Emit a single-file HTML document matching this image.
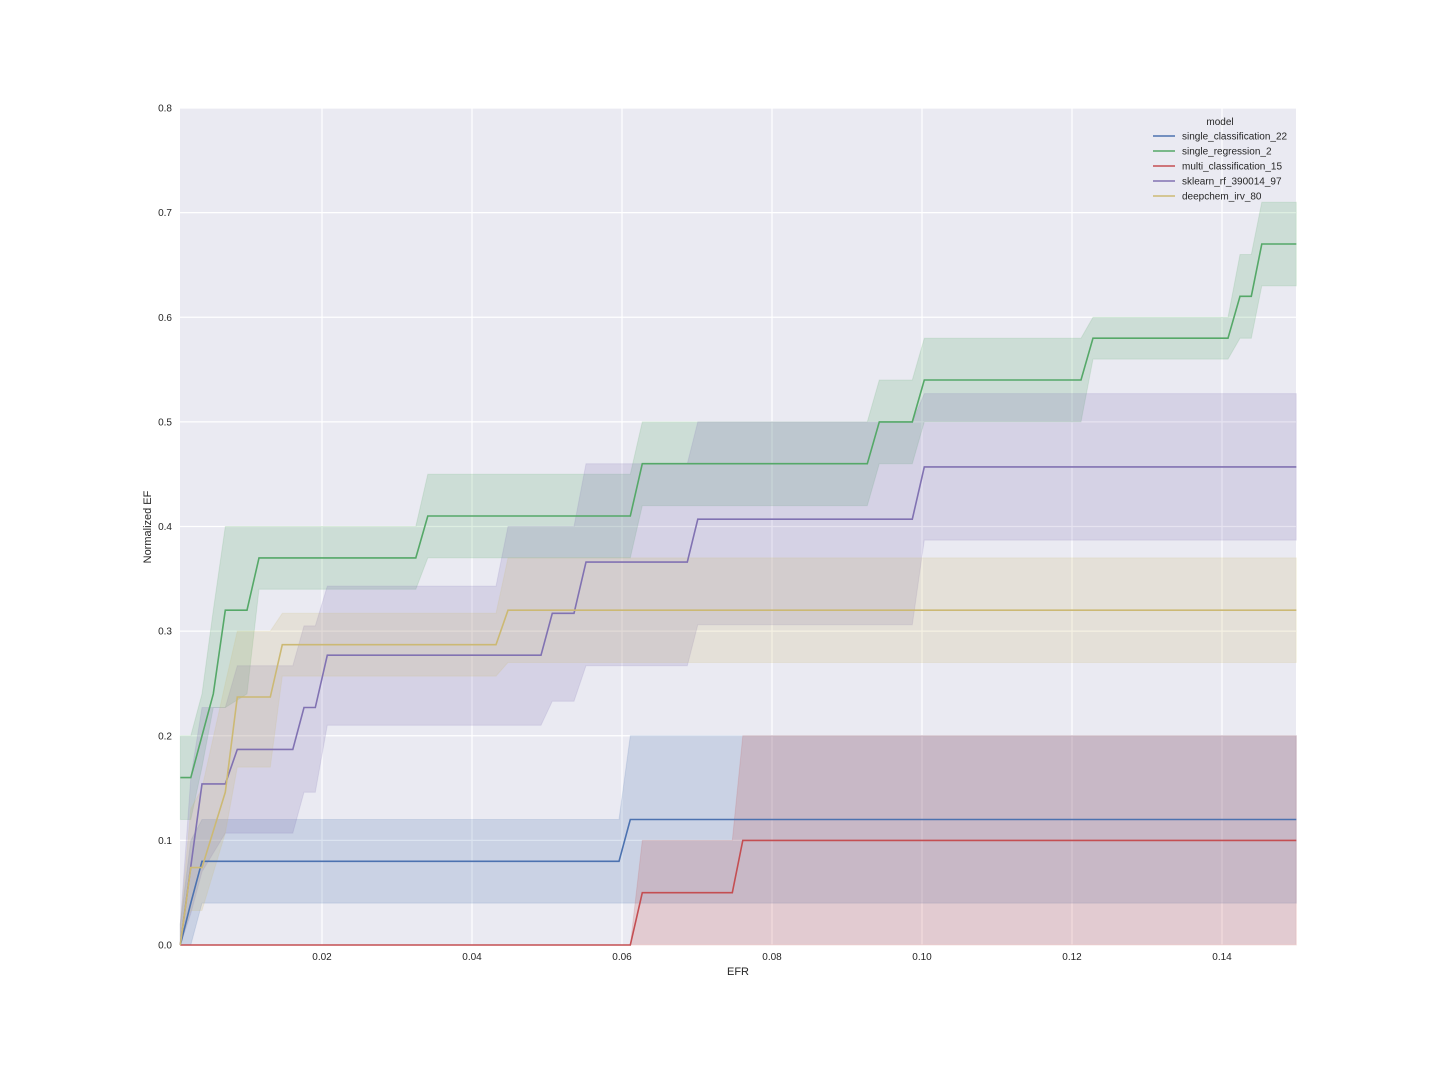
<!DOCTYPE html>
<html><head><meta charset="utf-8"><style>
html,body{margin:0;padding:0;background:#fff;}
svg text{font-family:"Liberation Sans",sans-serif;fill:#262626;}
</style></head><body>
<svg id="chart" width="1440" height="1080" xmlns="http://www.w3.org/2000/svg">
<rect x="180" y="108" width="1116" height="837" fill="#EAEAF2"/>
<g id="grid"></g>
<g id="bands"></g>
<g id="lines"></g>
<g id="ticks"></g>
<text x="738" y="975" font-size="11" text-anchor="middle">EFR</text>
<text transform="translate(151,527) rotate(-90)" font-size="11" text-anchor="middle">Normalized EF</text>
<g id="legend">
<text x="1220" y="125" font-size="10" text-anchor="middle">model</text>
</g>
</svg>
<script>
const xTicks = [0.02,0.04,0.06,0.08,0.10,0.12,0.14];
const xTickLabels = ["0.02","0.04","0.06","0.08","0.10","0.12","0.14"];
const yTicks = [0,0.1,0.2,0.3,0.4,0.5,0.6,0.7,0.8];
const yTickLabels = ["0.0","0.1","0.2","0.3","0.4","0.5","0.6","0.7","0.8"];
const seriesNames = ["single_classification_22","single_regression_2","multi_classification_15","sklearn_rf_390014_97","deepchem_irv_80"];
const seriesColors = ["#4C72B0","#55A868","#C44E52","#8172B2","#CCB974"];

const blueX = [0.0011,0.0025,0.0040,0.0596,0.0611,0.1499];
const blueMean = [0,0.04,0.08,0.08,0.12,0.12];
const blueHi = [0.02,0.1,0.12,0.12,0.2,0.2];
const blueLo = [0,0,0.04,0.04,0.04,0.04];

const greenX = [0.0011,0.0025,0.0040,0.0055,0.0071,0.0100,0.0116,0.0325,0.0341,0.0611,0.0627,0.0927,0.0943,0.0987,0.1003,0.1212,0.1228,0.1408,0.1424,0.1439,0.1453,0.1499];
const greenMean = [0.16,0.16,0.20,0.24,0.32,0.32,0.37,0.37,0.41,0.41,0.46,0.46,0.50,0.50,0.54,0.54,0.58,0.58,0.62,0.62,0.67,0.67];
const greenHi = [0.2,0.2,0.24,0.32,0.40,0.40,0.40,0.40,0.45,0.45,0.50,0.50,0.54,0.54,0.58,0.58,0.60,0.60,0.66,0.66,0.71,0.71];
const greenLo = [0.12,0.12,0.17,0.227,0.227,0.24,0.34,0.34,0.37,0.37,0.42,0.42,0.46,0.46,0.50,0.50,0.56,0.56,0.58,0.58,0.63,0.63];

const redX = [0.0011,0.0611,0.0627,0.0747,0.0761,0.1499];
const redMean = [0,0,0.05,0.05,0.1,0.1];
const redHi = [0,0,0.1,0.1,0.2,0.2];
const redLo = [0,0,0,0,0,0];

const purpleX = [0.0011,0.0025,0.0040,0.0071,0.0087,0.0161,0.0176,0.0191,0.0207,0.0432,0.0448,0.0492,0.0507,0.0536,0.0552,0.0687,0.0701,0.0987,0.1003,0.1499];
const purpleMean = [0,0.075,0.154,0.154,0.187,0.187,0.227,0.227,0.277,0.277,0.277,0.277,0.317,0.317,0.366,0.366,0.407,0.407,0.457,0.457];
const purpleHi = [0.02,0.16,0.227,0.227,0.267,0.267,0.305,0.305,0.343,0.343,0.40,0.40,0.40,0.40,0.46,0.46,0.50,0.50,0.527,0.527];
const purpleLo = [0,0.03,0.07,0.107,0.107,0.107,0.146,0.146,0.21,0.21,0.21,0.21,0.233,0.233,0.267,0.267,0.306,0.306,0.387,0.387];

const yellowX = [0.0011,0.0025,0.0040,0.0071,0.0087,0.0131,0.0147,0.0432,0.0448,0.1499];
const yellowMean = [0,0.074,0.074,0.146,0.237,0.237,0.287,0.287,0.32,0.32];
const yellowHi = [0.02,0.13,0.15,0.25,0.30,0.30,0.317,0.317,0.37,0.37];
const yellowLo = [0,0.033,0.033,0.107,0.17,0.17,0.257,0.257,0.27,0.27];

const NS = "http://www.w3.org/2000/svg";
const X0 = 172, XS = 7500, Y0 = 945, YS = 1046.25;
function sx(v){ return X0 + v*XS; }
function sy(v){ return Y0 - v*YS; }
function mk(tag, attrs, parent){
  const e = document.createElementNS(NS, tag);
  for (const k in attrs) e.setAttribute(k, attrs[k]);
  parent.appendChild(e);
  return e;
}
const grid = document.getElementById('grid');
const ticks = document.getElementById('ticks');
xTicks.forEach((t,i)=>{
  const l = mk('line',{x1:sx(t),x2:sx(t),y1:108,y2:945,stroke:'#fff','stroke-width':1.2},grid);
  
  
  const tx = mk('text',{x:sx(t),y:960,'font-size':10,'text-anchor':'middle'},ticks);
  tx.textContent = xTickLabels[i];
  
  
});
yTicks.forEach((t,i)=>{
  const l = mk('line',{x1:180,x2:1296,y1:sy(t),y2:sy(t),stroke:'#fff','stroke-width':1.2},grid);
  
  
  const tx = mk('text',{x:172,y:sy(t)+3.5,'font-size':10,'text-anchor':'end'},ticks);
  tx.textContent = yTickLabels[i];
  
  
});
const series = [
  [blueX,blueMean,blueHi,blueLo],
  [greenX,greenMean,greenHi,greenLo],
  [redX,redMean,redHi,redLo],
  [purpleX,purpleMean,purpleHi,purpleLo],
  [yellowX,yellowMean,yellowHi,yellowLo]
];
const bands = document.getElementById('bands');
const lines = document.getElementById('lines');
series.forEach((s,i)=>{
  const [xs,m,hi,lo] = s;
  let d = 'M' + xs.map((x,j)=>sx(x).toFixed(1)+','+sy(hi[j]).toFixed(1)).join('L');
  for (let j=xs.length-1;j>=0;j--) d += 'L'+sx(xs[j]).toFixed(1)+','+sy(lo[j]).toFixed(1);
  d += 'Z';
  const b = mk('path',{d:d,fill:seriesColors[i],'fill-opacity':0.2,stroke:seriesColors[i],'stroke-opacity':0.15},bands);
  
  
  const pl = mk('polyline',{points:xs.map((x,j)=>sx(x).toFixed(1)+','+sy(m[j]).toFixed(1)).join(' '),fill:'none',stroke:seriesColors[i],'stroke-width':1.6},lines);
  
  
});
const legend = document.getElementById('legend');
seriesNames.forEach((n,i)=>{
  const y = 136 + i*15;
  const l = mk('line',{x1:1153,x2:1175,y1:y,y2:y,stroke:seriesColors[i],'stroke-width':1.6},legend);
  
  
  const t = mk('text',{x:1182,y:y+3.5,'font-size':10},legend);
  t.textContent = n;
  
  
});
</script>
</body></html>
